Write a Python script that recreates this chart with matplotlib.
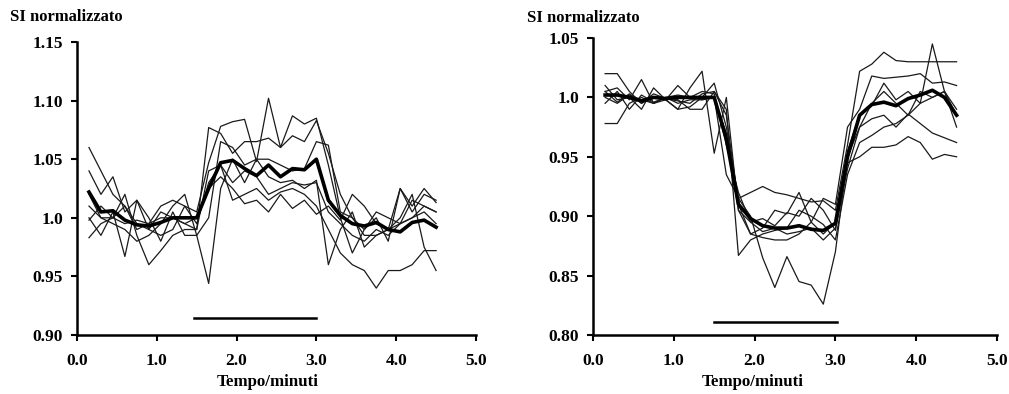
import numpy as np
import matplotlib
matplotlib.use("Agg")
import matplotlib.pyplot as plt

plt.rcParams['font.family'] = ['Liberation Serif', 'DejaVu Serif']
plt.rcParams['font.weight'] = 'bold'

# tempo (minuti)
t = np.round(np.arange(1, 31) * 0.15, 2)

# pannello sinistro: tracce singole e media
L1 = [1.060, 1.040, 1.020, 1.010, 0.995, 0.990, 1.005, 1.000, 0.995, 0.990,
      1.077, 1.072, 1.055, 1.065, 1.065, 1.068, 1.060, 1.070, 1.065, 1.083,
      1.055, 1.020, 1.000, 0.990, 1.005, 1.000, 0.995, 1.015, 1.010, 1.005]
L2 = [1.040, 1.020, 1.035, 1.005, 1.015, 0.990, 0.985, 0.990, 1.010, 1.005,
      1.047, 1.078, 1.082, 1.084, 1.048, 1.102, 1.060, 1.087, 1.080, 1.085,
      1.045, 1.000, 0.970, 0.990, 1.000, 0.980, 1.025, 1.005, 1.020, 1.015]
L3 = [1.000, 0.985, 1.005, 0.967, 1.015, 1.000, 0.980, 1.005, 0.985, 0.985,
      0.944, 1.025, 1.050, 1.030, 1.050, 1.035, 1.030, 1.032, 1.025, 1.032,
      0.960, 0.990, 1.005, 0.975, 0.985, 0.990, 1.000, 1.020, 0.975, 0.955]
L4 = [0.983, 0.995, 1.000, 1.020, 0.985, 0.960, 0.972, 0.985, 0.990, 0.990,
      1.040, 1.045, 1.015, 1.020, 1.025, 1.015, 1.022, 1.025, 1.020, 1.010,
      0.990, 0.970, 0.960, 0.955, 0.940, 0.955, 0.955, 0.960, 0.972, 0.972]
L5 = [0.998, 1.010, 1.000, 1.010, 0.990, 0.995, 1.010, 1.015, 1.010, 0.995,
      1.030, 1.045, 1.030, 1.040, 1.035, 1.020, 1.025, 1.030, 1.028, 1.030,
      1.005, 0.995, 0.985, 0.980, 0.990, 0.985, 0.995, 1.000, 1.010, 1.005]
L6 = [1.020, 1.000, 1.000, 0.995, 0.998, 0.995, 1.000, 1.000, 0.995, 1.000,
      1.025, 1.035, 1.025, 1.012, 1.015, 1.005, 1.020, 1.008, 1.015, 1.003,
      1.010, 0.998, 1.020, 1.010, 0.995, 0.990, 0.995, 1.000, 1.005, 0.995]
L7 = [1.010, 1.000, 0.995, 0.990, 0.980, 0.985, 0.995, 1.010, 1.020, 0.985,
      1.000, 1.065, 1.060, 1.045, 1.050, 1.050, 1.045, 1.040, 1.042, 1.065,
      1.062, 1.005, 1.000, 0.985, 0.985, 0.990, 1.025, 1.010, 1.025, 1.013]
ML = [1.022, 1.005, 1.006, 0.998, 0.994, 0.993, 0.996, 1.000, 1.000, 1.000,
      1.025, 1.047, 1.049, 1.042, 1.036, 1.045, 1.035, 1.042, 1.041, 1.050,
      1.015, 1.002, 0.995, 0.993, 0.996, 0.990, 0.988, 0.996, 0.998, 0.992]

# pannello destro
R1 = [1.020, 1.020, 1.005, 0.995, 1.000, 0.998, 0.990, 0.992, 1.000, 1.012,
      0.975, 0.915, 0.920, 0.925, 0.920, 0.918, 0.915, 0.912, 0.913, 0.905,
      0.960, 1.022, 1.028, 1.038, 1.031, 1.030, 1.030, 1.030, 1.030, 1.030]
R2 = [0.978, 0.978, 0.995, 1.000, 0.995, 1.000, 0.998, 0.990, 0.990, 1.005,
      0.990, 0.867, 0.880, 0.885, 0.888, 0.890, 0.905, 0.900, 0.893, 0.880,
      0.935, 0.962, 0.968, 0.975, 0.978, 0.985, 0.995, 1.045, 1.005, 0.975]
R3 = [1.010, 0.998, 1.000, 0.990, 1.008, 0.998, 0.990, 1.008, 1.022, 0.953,
      1.000, 0.905, 0.885, 0.882, 0.880, 0.880, 0.885, 0.895, 0.915, 0.910,
      0.975, 0.990, 1.018, 1.016, 1.017, 1.018, 1.020, 1.012, 1.013, 1.010]
R4 = [1.005, 1.008, 0.998, 1.015, 0.995, 0.998, 1.010, 1.000, 0.998, 1.000,
      0.935, 0.915, 0.900, 0.865, 0.840, 0.866, 0.845, 0.842, 0.826, 0.870,
      0.950, 0.975, 0.995, 1.005, 0.995, 0.985, 1.005, 1.000, 1.005, 0.990]
R5 = [1.000, 0.995, 1.002, 0.998, 0.995, 1.000, 0.995, 0.998, 0.998, 1.000,
      0.970, 0.905, 0.895, 0.887, 0.890, 0.885, 0.887, 0.890, 0.880, 0.890,
      0.945, 0.950, 0.958, 0.958, 0.960, 0.967, 0.962, 0.948, 0.952, 0.950]
R6 = [0.995, 1.005, 0.990, 1.002, 0.996, 1.000, 1.002, 1.000, 1.005, 1.003,
      0.960, 0.920, 0.895, 0.898, 0.892, 0.903, 0.900, 0.915, 0.905, 0.888,
      0.940, 0.975, 0.982, 0.985, 0.975, 0.986, 0.978, 0.970, 0.966, 0.962]
R7 = [1.005, 0.996, 1.003, 0.995, 1.003, 0.999, 0.997, 0.995, 1.003, 1.005,
      0.985, 0.910, 0.885, 0.890, 0.905, 0.902, 0.920, 0.895, 0.885, 0.895,
      0.955, 0.985, 0.993, 1.012, 0.998, 1.005, 0.995, 1.000, 1.005, 0.985]
MR = [1.002, 1.002, 1.000, 0.997, 1.000, 0.999, 1.000, 1.000, 1.000, 1.000,
      0.965, 0.910, 0.898, 0.892, 0.890, 0.890, 0.892, 0.889, 0.888, 0.894,
      0.950, 0.985, 0.994, 0.996, 0.993, 0.999, 1.002, 1.006, 1.000, 0.985]

# barra dello stimolo (inizio, fine, livello)
stimL = [1.47, 3.0, 0.9148]
stimR = [1.50, 3.02, 0.811]

yticksL = [0.90, 0.95, 1.00, 1.05, 1.10, 1.15]
ylabL = ['0.90', '0.95', '1.0', '1.05', '1.10', '1.15']
yticksR = [0.80, 0.85, 0.90, 0.95, 1.00, 1.05]
ylabR = ['0.80', '0.85', '0.90', '0.95', '1.0', '1.05']
xticks = [0, 1, 2, 3, 4, 5]
xlab = ['0.0', '1.0', '2.0', '3.0', '4.0', '5.0']

fig = plt.figure(figsize=(10.09, 3.94), dpi=100)
axL = fig.add_axes([77/1009, 1-335/394, 399/1009, 293/394])
axR = fig.add_axes([593/1009, 1-335/394, 404/1009, 297/394])

def style(ax, yt, yl):
    ax.set_xlim(0, 5)
    ax.set_ylim(yt[0], yt[-1])
    ax.set_xticks(xticks)
    ax.set_xticklabels(xlab)
    ax.set_yticks(yt)
    ax.set_yticklabels(yl)
    for s in ['top', 'right']:
        ax.spines[s].set_visible(False)
    for s in ['left', 'bottom']:
        ax.spines[s].set_linewidth(1.8)
    ax.tick_params(direction='out', length=4, width=1.5, labelsize=12.5)
    ax.tick_params(axis='x', pad=9)
    ax.tick_params(axis='y', pad=6)
    for lab in ax.get_xticklabels() + ax.get_yticklabels():
        lab.set_fontweight('bold')

for ax, lines, mean, stim, yt, yl in [
        (axL, [L1, L2, L3, L4, L5, L6, L7], ML, stimL, yticksL, ylabL),
        (axR, [R1, R2, R3, R4, R5, R6, R7], MR, stimR, yticksR, ylabR)]:
    for y in lines:
        ax.plot(t, y, color='#1a1a1a', lw=0.9)
    ax.plot(t, mean, color='black', lw=2.6)
    ax.plot(stim[:2], [stim[2], stim[2]], color='black', lw=1.8)
    style(ax, yt, yl)

fig.text(10/1009, 1-17/394, 'SI normalizzato', fontsize=12, fontweight='bold', va='center', ha='left')
fig.text(527/1009, 1-18/394, 'SI normalizzato', fontsize=12, fontweight='bold', va='center', ha='left')
fig.text(268/1009, 1-382/394, 'Tempo/minuti', fontsize=12.2, fontweight='bold', va='center', ha='center')
fig.text(753/1009, 1-382/394, 'Tempo/minuti', fontsize=12.2, fontweight='bold', va='center', ha='center')

fig.savefig('out.png', dpi=100)
